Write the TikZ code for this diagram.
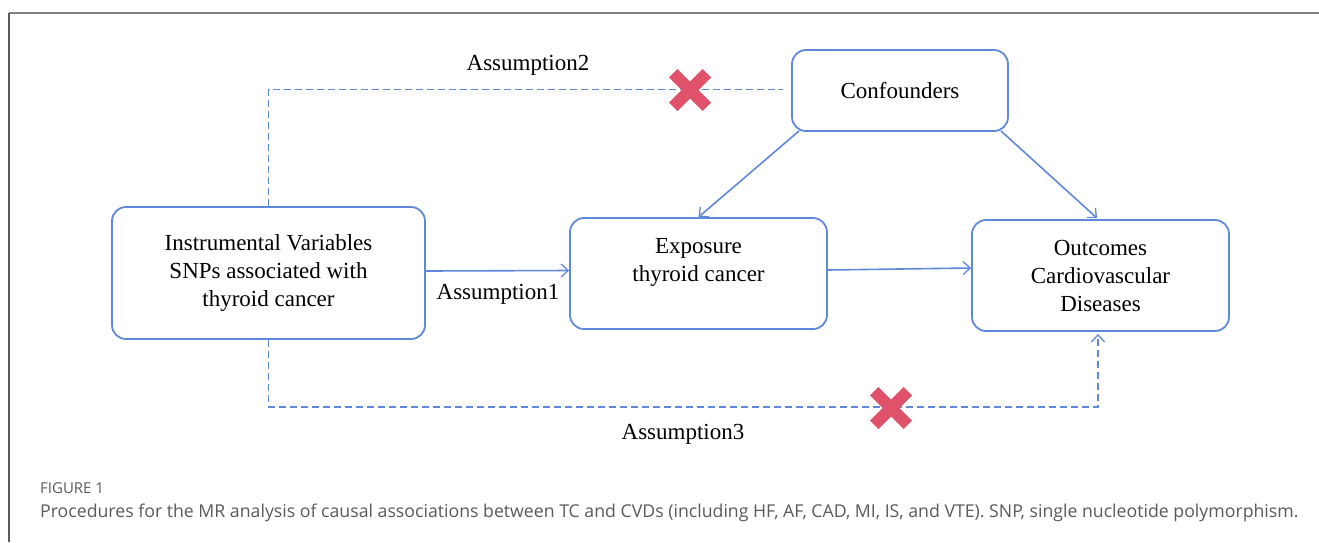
\documentclass[tikz,border=0pt]{standalone}
\usepackage{fontspec}
\setmainfont{Liberation Serif}
\newfontfamily\capfont{Open Sans}
\usetikzlibrary{arrows.meta}
\definecolor{lineblue}{RGB}{96,136,216}
\definecolor{crossred}{RGB}{224,82,106}
\definecolor{framegray}{RGB}{128,128,128}
\definecolor{capgray}{RGB}{90,90,90}
\tikzset{
  box/.style={draw=lineblue, line width=1.8pt, rounded corners=14pt, inner sep=0pt,
    align=center, font=\fontsize{23}{28}\selectfont},
  arr/.style={draw=lineblue, line width=1.6pt, -{Straight Barb[length=7pt,width=13pt,line width=1.3pt]}},
  dashline/.style={draw=lineblue, line width=1.6pt, dash pattern=on 7pt off 4pt},
  lbl/.style={font=\fontsize{23}{28}\selectfont, inner sep=0pt},
  crossmark/.style={draw=crossred, line width=12pt, line cap=butt},
  frameline/.style={draw=framegray}
}
\begin{document}
\begin{tikzpicture}[x=1pt,y=-1pt]
\useasboundingbox (0,0) rectangle (1319,542);
% frame
\coordinate (ftl) at (9,13);
\coordinate (ftr) at (1319,13);
\coordinate (fbl) at (9,542);
\draw[frameline, line width=2pt] (ftl) -- (ftr);
\draw[frameline, line width=1.3pt, draw=black!65] (ftl) -- (fbl);
% nodes
\node[box, minimum width=216pt, minimum height=81pt] (conf) at (900,90.5) {Confounders};
\node[box, minimum width=313pt, minimum height=132pt] (iv) at (268.5,273) {Instrumental Variables\\SNPs associated with\\thyroid cancer};
\node[box, minimum width=257pt, minimum height=111pt] (exp) at (698.5,273.5) {Exposure\\thyroid cancer\\~};
\node[box, minimum width=257pt, minimum height=111pt] (out) at (1100.5,275.5) {Outcomes\\Cardiovascular\\Diseases};
% solid arrows
\draw[arr] ([yshift=2pt]iv.east) -- ([yshift=3pt]exp.west);
\draw[arr] ([yshift=3.5pt]exp.east) -- ([yshift=7.5pt]out.west);
\draw[arr] ([xshift=8pt,yshift=1pt]conf.south west) -- (exp.north);
\draw[arr] ([xshift=-8pt,yshift=1pt]conf.south east) -- ([xshift=-3.5pt,yshift=1pt]out.north);
% dashed connections
\coordinate (a2end) at ([xshift=-8pt,yshift=1pt]conf.west);
\draw[dashline] (iv.north) |- (a2end);
\coordinate (a3turn) at ([yshift=-67pt]iv.south);
\draw[dashline, -{Straight Barb[length=7pt,width=13pt,line width=1.3pt]}] (iv.south) -- (a3turn) -| ([xshift=-2.5pt,yshift=-2pt]out.south);
% crosses
\coordinate (x1) at (690,90);
\coordinate (x2) at (891,408);
\draw[crossmark] ([shift={(-16.8,-16.8)}]x1) -- ([shift={(16.8,16.8)}]x1);
\draw[crossmark] ([shift={(-16.8,16.8)}]x1) -- ([shift={(16.8,-16.8)}]x1);
\draw[crossmark] ([shift={(-16.8,-16.8)}]x2) -- ([shift={(16.8,16.8)}]x2);
\draw[crossmark] ([shift={(-16.8,16.8)}]x2) -- ([shift={(16.8,-16.8)}]x2);
% labels
\node[lbl] (l2) at (528,65) {Assumption2};
\node[lbl] (l1) at (498,294) {Assumption1};
\node[lbl] (l3) at (683,434) {Assumption3};
% caption
\node[anchor=west, inner sep=0pt, text=capgray, font=\capfont\fontsize{15}{17}\selectfont] (fig) at (40,488) {FIGURE 1};
\node[anchor=west, inner sep=0pt, text=capgray, font=\capfont\fontsize{17.7}{20}\selectfont] (cap) at (40,513) {Procedures for the MR analysis of causal associations between TC and CVDs (including HF, AF, CAD, MI, IS, and VTE). SNP, single nucleotide polymorphism.};
\end{tikzpicture}
\end{document}
